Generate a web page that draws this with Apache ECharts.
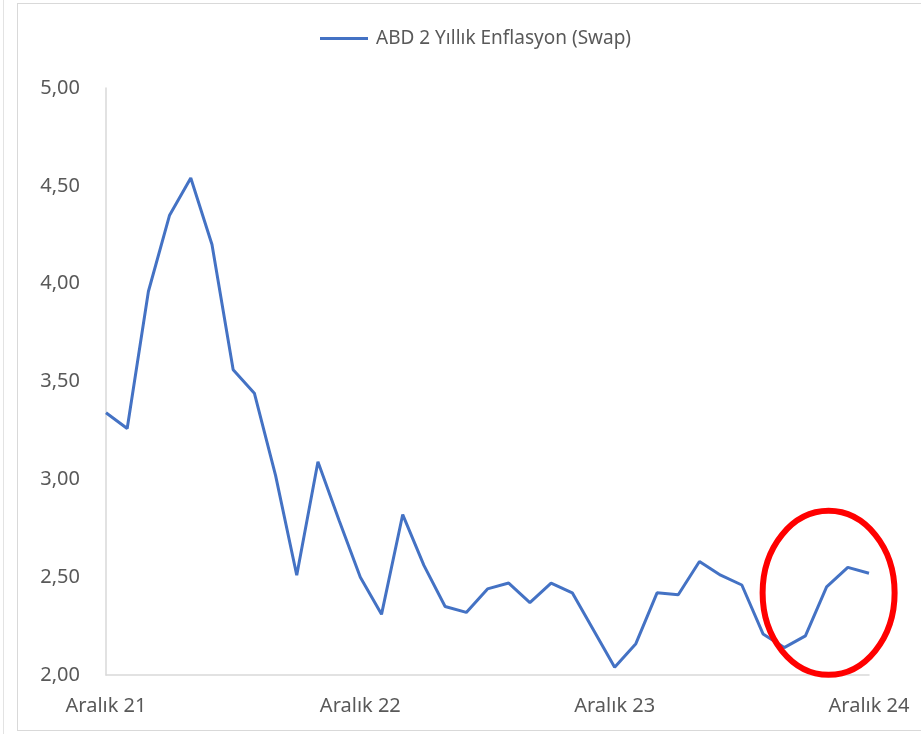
<!DOCTYPE html>
<html>
<head>
<meta charset="utf-8">
<script src="https://cdn.jsdelivr.net/npm/echarts@6/dist/echarts.min.js"></script>
<style>
    html,body{margin:0;padding:0;background:#fff;}
    #leftLine{position:absolute;left:3px;top:0;width:0;height:734px;border-left:1px solid #e3e3e3;}
    #frame{position:absolute;left:17px;top:3px;width:910px;height:726px;border:1px solid #d9d9d9;}
    #chart{position:absolute;left:0;top:0;width:921px;height:734px;}
</style>
</head>
<body>
<div id="leftLine"></div>
<div id="frame"></div>
<div id="chart"></div>
<script>
//ay isimleri (x ekseni)
var months = ["Aralık 21",
    "Ocak 22","Şubat 22","Mart 22","Nisan 22","Mayıs 22","Haziran 22","Temmuz 22","Ağustos 22","Eylül 22","Ekim 22","Kasım 22","Aralık 22",
    "Ocak 23","Şubat 23","Mart 23","Nisan 23","Mayıs 23","Haziran 23","Temmuz 23","Ağustos 23","Eylül 23","Ekim 23","Kasım 23","Aralık 23",
    "Ocak 24","Şubat 24","Mart 24","Nisan 24","Mayıs 24","Haziran 24","Temmuz 24","Ağustos 24","Eylül 24","Ekim 24","Kasım 24","Aralık 24"];

//ABD 2 yıllık enflasyon swap
var swapValues = [3.34,
    3.26,3.96,4.35,4.54,4.20,3.56,3.44,3.02,2.51,3.09,2.79,2.50,
    2.31,2.82,2.56,2.35,2.32,2.44,2.47,2.37,2.47,2.42,2.23,2.04,
    2.16,2.42,2.41,2.58,2.51,2.46,2.21,2.14,2.20,2.45,2.55,2.52];

var seriesName = "ABD 2 Yıllık Enflasyon (Swap)";
var yMin = 2, yMax = 5, yStep = 0.5;

//kırmızı daire: merkez (kategori index, değer)
var circleAt = [34, 2.42];

var myChart = echarts.init(document.getElementById("chart"));
var textColor = "#595959";
var fontName = "'Noto Sans', sans-serif";

var option = {
    animation:false,
    legend:{
        left:315, top:24,
        icon:"rect", itemWidth:48, itemHeight:3, itemGap:10,
        textStyle:{color:textColor, fontSize:19, fontFamily:fontName, padding:[0,0,0,3]},
        data:[seriesName]
    },
    grid:{left:106, right:52, top:88, bottom:59, containLabel:false},
    xAxis:{
        type:"category",
        boundaryGap:false,
        data:months,
        axisLine:{lineStyle:{color:"#d9d9d9", width:1.5}},
        axisTick:{show:false},
        axisLabel:{
            color:textColor, fontSize:20, fontFamily:fontName, margin:21,
            interval:function(index){ return index % 12 === 0; }
        },
        splitLine:{show:false}
    },
    yAxis:{
        type:"value",
        min:yMin, max:yMax, interval:yStep,
        axisLine:{show:true, lineStyle:{color:"#d9d9d9", width:1.5}},
        axisTick:{show:false},
        axisLabel:{
            color:textColor, fontSize:20, fontFamily:fontName, margin:26,
            formatter:function(v){ return v.toFixed(2).replace(".", ","); }
        },
        splitLine:{show:false}
    },
    series:[{
        name:seriesName,
        type:"line",
        data:swapValues,
        showSymbol:false,
        symbol:"none",
        lineStyle:{color:"#4472C4", width:3},
        itemStyle:{color:"#4472C4"}
    }]
};
myChart.setOption(option);

//kırmızı elips
var c = myChart.convertToPixel({gridIndex:0}, circleAt);
myChart.setOption({
    graphic:[{
        type:"ellipse",
        shape:{cx:c[0] + 2, cy:c[1], rx:66, ry:82},
        style:{fill:"none", stroke:"#FF0000", lineWidth:6},
        z:100
    }]
});
</script>
</body>
</html>
